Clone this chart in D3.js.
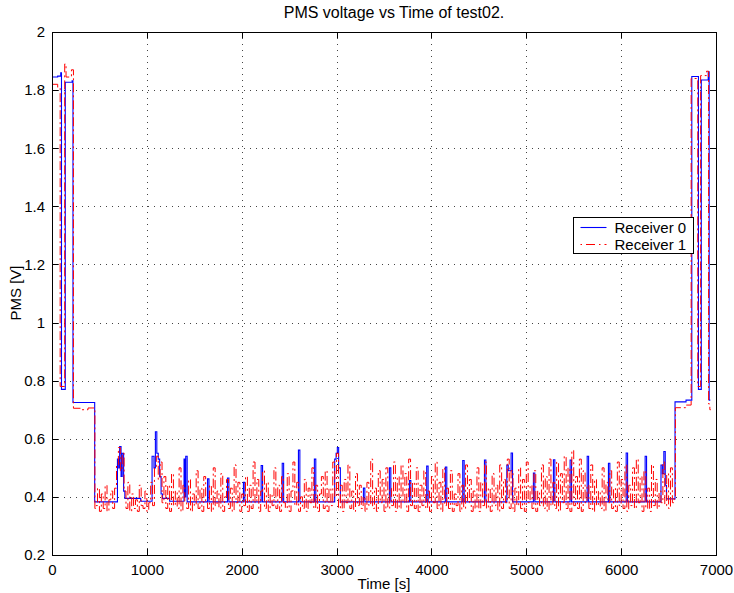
<!DOCTYPE html>
<html>
<head>
<meta charset="utf-8">
<script src="https://d3js.org/d3.v7.min.js"></script>
<style>
  body { margin: 0; background: #fff; }
  .grid line { stroke: #444; stroke-dasharray: 1,5; shape-rendering: crispEdges; }
  .axis path, .axis line { stroke: #000; shape-rendering: crispEdges; }
  .axis text, text.lbl { font-family: "Liberation Sans", Arial, sans-serif; font-size: 15px; fill: #000; }
</style>
</head>
<body>
<svg width="734" height="593"></svg>
<script>
// ---- data ----
var xTicks = [0, 1000, 2000, 3000, 4000, 5000, 6000, 7000];
var yTicks = [0.2, 0.4, 0.6, 0.8, 1, 1.2, 1.4, 1.6, 1.8, 2];
var seriesNames = ["Receiver 0", "Receiver 1"];

// receiver 0: step breakpoints
var blueTime = [0, 60, 92, 100, 140, 212, 221, 450,
  690, 703, 713, 728, 740, 755, 768, 935,
  1055, 1075, 1090, 1105, 1120, 1135, 1150, 1165, 1240,
  1392, 1402, 1410, 1425, 1640, 1655, 1850, 1865, 2018, 2033,
  2205, 2220, 2427, 2442, 2598, 2613, 2766, 2781,
  2980, 2995, 3008, 3022, 3040, 3283, 3298, 3557, 3572,
  3768, 3783, 3950, 3965, 4147, 4162, 4330, 4345, 4559, 4574,
  4795, 4810, 4840, 4855, 5075, 5090, 5286, 5301, 5462, 5477,
  5642, 5657, 5866, 5881, 6053, 6068, 6253, 6268,
  6420, 6435, 6450, 6465, 6478, 6568, 6684, 6745, 6815, 6845, 6918, 6928, 6940];
var blueVolt = [1.845, 1.848, 1.86, 0.77, 1.827, 1.832, 0.725, 0.383,
  0.53, 0.50, 0.573, 0.47, 0.55, 0.42, 0.395, 0.385,
  0.54, 0.50, 0.624, 0.55, 0.53, 0.47, 0.41, 0.395, 0.385,
  0.53, 0.40, 0.54, 0.383, 0.462, 0.383, 0.465, 0.383, 0.45, 0.383,
  0.508, 0.383, 0.516, 0.383, 0.561, 0.383, 0.53, 0.383,
  0.53, 0.55, 0.57, 0.50, 0.383, 0.43, 0.383, 0.50, 0.383,
  0.456, 0.383, 0.506, 0.383, 0.503, 0.383, 0.525, 0.383, 0.527, 0.383,
  0.51, 0.49, 0.551, 0.383, 0.482, 0.383, 0.528, 0.383, 0.527, 0.383,
  0.54, 0.383, 0.516, 0.383, 0.551, 0.383, 0.54, 0.383,
  0.51, 0.48, 0.556, 0.44, 0.393, 0.727, 0.733, 1.847, 0.77, 1.835, 1.863, 0.733, 0.733];

// receiver 1: step breakpoints before and after the noisy part
var redStartTime = [0, 60, 86, 134, 148, 205, 226, 300, 380, 452];
var redStartVolt = [1.82, 1.81, 0.78, 1.89, 1.845, 1.87, 0.705, 0.70, 0.706, 0.36];
var redEndTime = [6560, 6572, 6680, 6738, 6808, 6838, 6900, 6922, 6935, 6945];
var redEndVolt = [0.40, 0.707, 0.716, 1.84, 0.78, 1.85, 1.865, 0.72, 0.70, 0.70];

// receiver 1: noisy samples every 20 s from 460 s
var redNoiseStart = 460;
var redNoiseStep = 20;
var redNoise = [
  0.37, 0.43, 0.35, 0.41, 0.36, 0.44, 0.35, 0.39, 0.42, 0.36,
  0.43, 0.51, 0.57, 0.49, 0.55, 0.42, 0.36, 0.45, 0.35, 0.41,
  0.36, 0.39, 0.35, 0.44, 0.37, 0.36, 0.42, 0.35, 0.38, 0.45,
  0.37, 0.50, 0.54, 0.46, 0.52, 0.38, 0.47, 0.36, 0.44, 0.35,
  0.48, 0.37, 0.42, 0.36, 0.50, 0.35, 0.44, 0.38, 0.36, 0.46,
  0.35, 0.41, 0.37, 0.49, 0.36, 0.43, 0.35, 0.47, 0.38, 0.36,
  0.44, 0.35, 0.50, 0.37, 0.42, 0.36, 0.48, 0.35, 0.40, 0.46,
  0.36, 0.43, 0.35, 0.51, 0.38, 0.45, 0.35, 0.41, 0.37, 0.47,
  0.35, 0.44, 0.36, 0.52, 0.38, 0.46, 0.35, 0.42, 0.49, 0.36,
  0.45, 0.35, 0.41, 0.37, 0.50, 0.36, 0.44, 0.35, 0.47, 0.38,
  0.36, 0.48, 0.35, 0.42, 0.52, 0.37, 0.45, 0.35, 0.40, 0.36,
  0.46, 0.35, 0.43, 0.38, 0.50, 0.36, 0.44, 0.35, 0.41, 0.47,
  0.36, 0.49, 0.35, 0.43, 0.37, 0.52, 0.40, 0.55, 0.36, 0.44,
  0.35, 0.46, 0.38, 0.51, 0.36, 0.42, 0.35, 0.48, 0.37, 0.44,
  0.36, 0.40, 0.35, 0.45, 0.37, 0.53, 0.36, 0.43, 0.35, 0.49,
  0.38, 0.46, 0.35, 0.50, 0.36, 0.43, 0.37, 0.52, 0.35, 0.47,
  0.36, 0.51, 0.38, 0.48, 0.35, 0.53, 0.37, 0.45, 0.36, 0.50,
  0.35, 0.44, 0.37, 0.49, 0.36, 0.42, 0.35, 0.47, 0.38, 0.52,
  0.36, 0.45, 0.35, 0.50, 0.37, 0.43, 0.36, 0.49, 0.35, 0.41,
  0.37, 0.48, 0.35, 0.44, 0.36, 0.51, 0.38, 0.46, 0.35, 0.42,
  0.36, 0.50, 0.35, 0.45, 0.37, 0.52, 0.36, 0.43, 0.35, 0.48,
  0.37, 0.44, 0.35, 0.51, 0.36, 0.46, 0.38, 0.53, 0.36, 0.49,
  0.35, 0.43, 0.37, 0.50, 0.36, 0.46, 0.35, 0.52, 0.38, 0.44,
  0.36, 0.49, 0.35, 0.42, 0.37, 0.51, 0.36, 0.47, 0.35, 0.53,
  0.37, 0.45, 0.36, 0.52, 0.35, 0.48, 0.38, 0.54, 0.36, 0.50,
  0.35, 0.56, 0.37, 0.47, 0.36, 0.53, 0.35, 0.49, 0.38, 0.44,
  0.36, 0.51, 0.35, 0.46, 0.37, 0.42, 0.36, 0.50, 0.35, 0.45,
  0.38, 0.49, 0.36, 0.43, 0.35, 0.52, 0.37, 0.46, 0.36, 0.51,
  0.35, 0.44, 0.37, 0.50, 0.36, 0.53, 0.38, 0.47, 0.35, 0.49,
  0.36, 0.43, 0.35, 0.51, 0.37, 0.46, 0.36, 0.42, 0.38, 0.52,
  0.37, 0.48, 0.36, 0.50, 0.38];

// ---- build point lists ----
var blueData = d3.zip(blueTime, blueVolt);
var redData = d3.zip(redStartTime, redStartVolt)
  .concat(redNoise.map(function(v, i) { return [redNoiseStart + i * redNoiseStep, v]; }))
  .concat(d3.zip(redEndTime, redEndVolt));

var plotLeft = 52, plotRight = 716, plotTop = 32, plotBottom = 555;
var redDash = "9,3,2,3";

var svg = d3.select("svg");

var xScale = d3.scaleLinear().domain([0, 7000]).range([plotLeft, plotRight]);
var yScale = d3.scaleLinear().domain([0.2, 2]).range([plotBottom, plotTop]);

// grid
var grid = svg.append("g").attr("class", "grid");
grid.selectAll("line.gx")
  .data(xTicks.slice(1, -1))
  .enter().append("line")
  .attr("x1", function(d) { return Math.round(xScale(d)) + 0.5; })
  .attr("x2", function(d) { return Math.round(xScale(d)) + 0.5; })
  .attr("y1", plotTop).attr("y2", plotBottom);
grid.selectAll("line.gy")
  .data(yTicks.slice(1, -1))
  .enter().append("line")
  .attr("y1", function(d) { return Math.round(yScale(d)) + 0.5; })
  .attr("y2", function(d) { return Math.round(yScale(d)) + 0.5; })
  .attr("x1", plotLeft).attr("x2", plotRight);

// lines
svg.append("clipPath").attr("id", "plotclip")
  .append("rect").attr("x", plotLeft).attr("y", plotTop)
  .attr("width", plotRight - plotLeft).attr("height", plotBottom - plotTop);

var line = d3.line()
  .x(function(d) { return xScale(d[0]); })
  .y(function(d) { return yScale(d[1]); })
  .curve(d3.curveStepAfter);

var plot = svg.append("g").attr("clip-path", "url(#plotclip)");
plot.append("path").datum(blueData)
  .attr("d", line)
  .attr("fill", "none").attr("stroke", "#0000ff").attr("stroke-width", 1.1);
plot.append("path").datum(redData)
  .attr("d", line)
  .attr("fill", "none").attr("stroke", "#ff0000").attr("stroke-width", 1)
  .attr("stroke-dasharray", redDash);

// axes, ticks pointing inward on all four sides
svg.append("g").attr("class", "axis")
  .attr("transform", "translate(0," + plotBottom + ")")
  .call(d3.axisBottom(xScale).tickValues(xTicks).tickSizeInner(-6).tickSizeOuter(0)
    .tickPadding(9).tickFormat(d3.format("d")));
svg.append("g").attr("class", "axis")
  .attr("transform", "translate(" + plotLeft + ",0)")
  .call(d3.axisLeft(yScale).tickValues(yTicks).tickSizeInner(-6).tickSizeOuter(0)
    .tickPadding(7).tickFormat(d3.format("~g")));
svg.append("g").attr("class", "axis")
  .attr("transform", "translate(0," + plotTop + ")")
  .call(d3.axisTop(xScale).tickValues(xTicks).tickSizeInner(-6).tickSizeOuter(0).tickFormat(""));
svg.append("g").attr("class", "axis")
  .attr("transform", "translate(" + plotRight + ",0)")
  .call(d3.axisRight(yScale).tickValues(yTicks).tickSizeInner(-6).tickSizeOuter(0).tickFormat(""));

// labels
svg.append("text").attr("class", "lbl")
  .attr("x", 394).attr("y", 18).attr("text-anchor", "middle")
  .style("font-size", "16px")
  .text("PMS voltage vs Time of test02.");
svg.append("text").attr("class", "lbl")
  .attr("x", 384).attr("y", 589).attr("text-anchor", "middle")
  .text("Time [s]");
svg.append("text").attr("class", "lbl")
  .attr("transform", "translate(21,293) rotate(-90)")
  .attr("text-anchor", "middle")
  .text("PMS [V]");

// legend
var legend = svg.append("g").attr("transform", "translate(573.5,217.5)");
legend.append("rect").attr("width", 120).attr("height", 36)
  .attr("fill", "#fff").attr("stroke", "#000");
var legendStyles = [
  { color: "#0000ff", dash: null },
  { color: "#ff0000", dash: "1.5,4,9,4" }
];
seriesNames.forEach(function(name, i) {
  var yy = 10 + i * 17;
  legend.append("line")
    .attr("x1", 7).attr("x2", 33).attr("y1", yy).attr("y2", yy)
    .attr("stroke", legendStyles[i].color).attr("stroke-width", 1.1)
    .attr("stroke-dasharray", legendStyles[i].dash);
  legend.append("text").attr("class", "lbl")
    .attr("x", 41).attr("y", yy + 5)
    .text(name);
});
</script>
</body>
</html>
